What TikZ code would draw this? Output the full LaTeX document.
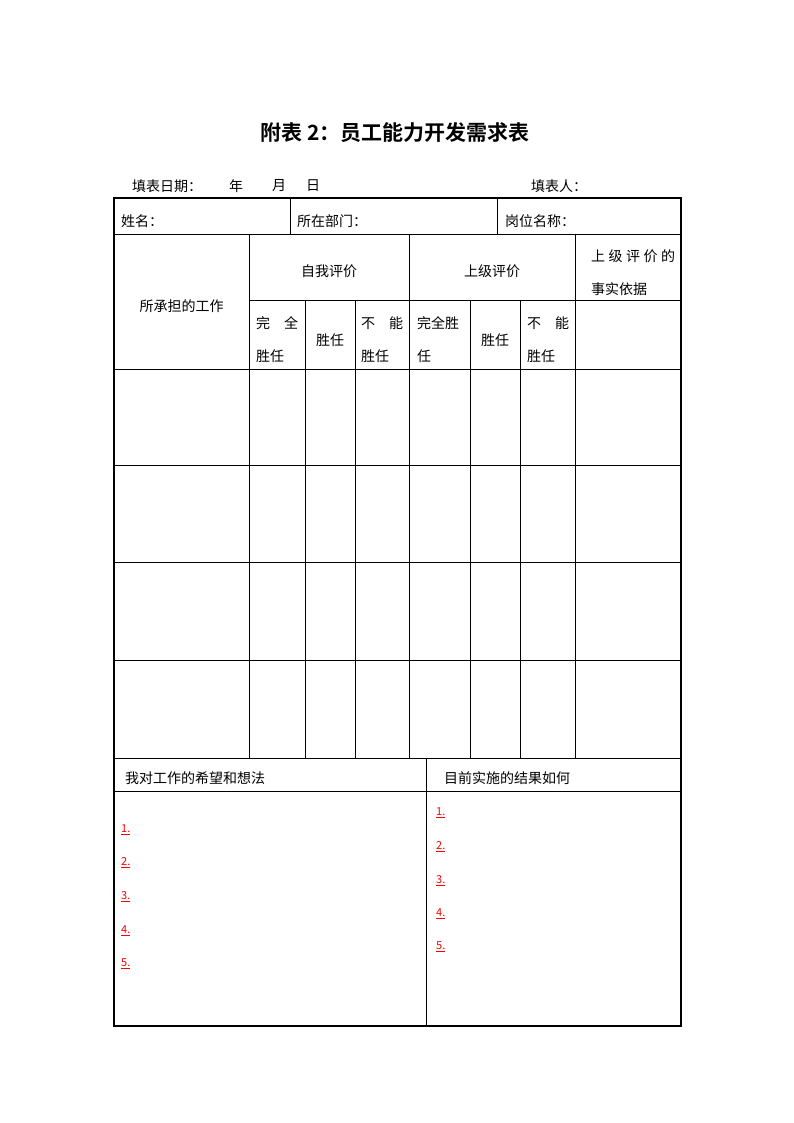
\documentclass[tikz,border=0pt]{standalone}
\usepackage{fontspec}
\setmainfont{Noto Sans CJK SC}
\newfontfamily\titlefont{Noto Sans CJK SC Bold}
\usetikzlibrary{positioning}

\tikzset{
  txt/.style={inner sep=0pt, anchor=west, font=\fontsize{14}{14}\selectfont},
  ctxt/.style={inner sep=0pt, font=\fontsize{14}{14}\selectfont},
  numred/.style={inner sep=0pt, anchor=west, text=red, font=\fontsize{11}{11}\selectfont},
  rule/.style={line width=0.8pt},
  frame/.style={line width=1.8pt}
}

\begin{document}
\begin{tikzpicture}[x=1pt,y=-1pt]
  \useasboundingbox (0,0) rectangle (794,1123);

  % title and top line
  \node[inner sep=0pt, font=\titlefont\fontsize{21}{21}\selectfont] (title) at (395,133) {附表 2：员工能力开发需求表};
  \node[txt] (date) at (132,186) {填表日期：};
  \node[txt] (year) at (229,186) {年};
  \node[txt] (month) at (272,186) {月};
  \node[txt] (day) at (306,186) {日};
  \node[txt] (filler) at (531,186) {填表人：};

  % grid
  \draw[rule] (114,234) -- (681,234);
  \draw[rule] (290,198) -- (290,234);
  \draw[rule] (497,198) -- (497,234);
  \draw[rule] (249,300) -- (681,300);
  \foreach \y in {369,465,562,660,758}
    \draw[rule] (114,\y) -- (681,\y);
  \draw[rule] (114,791) -- (681,791);
  \foreach \x in {249,409,575}
    \draw[rule] (\x,234) -- (\x,758);
  \foreach \x in {305,355,470,520}
    \draw[rule] (\x,300) -- (\x,758);
  \draw[rule] (426,758) -- (426,1026);
  \draw[frame] (114,198) rectangle (681,1026);

  % first row
  \node[txt] (name) at (121,221) {姓名：};
  \node[txt] (dept) at (297,221) {所在部门：};
  \node[txt] (post) at (505,221) {岗位名称：};

  % header
  \node[ctxt] (work) at (181.5,306) {所承担的工作};
  \node[ctxt] (self) at (329,271) {自我评价};
  \node[ctxt] (boss) at (492,271) {上级评价};
  \node[txt] (basis1) at (591,256) {\makebox[84pt][s]{上\hfil 级\hfil 评\hfil 价\hfil 的}};
  \node[txt] (basis2) at (591,289) {事实依据};

  \node[txt] (sfull1) at (256,323) {完\quad 全};
  \node[txt] (sfull2) at (256,356) {胜任};
  \node[ctxt] (sok) at (330,340) {胜任};
  \node[txt] (sno1) at (361,323) {不\quad 能};
  \node[txt] (sno2) at (361,356) {胜任};
  \node[txt] (bfull1) at (417,323) {完全胜};
  \node[txt] (bfull2) at (417,356) {任};
  \node[ctxt] (bok) at (495,340) {胜任};
  \node[txt] (bno1) at (527,323) {不\quad 能};
  \node[txt] (bno2) at (527,356) {胜任};

  % lower part
  \node[txt] (hope) at (125,778) {我对工作的希望和想法};
  \node[txt] (result) at (444,778) {目前实施的结果如何};
  \foreach \i/\y in {1/830,2/863,3/897,4/931,5/964}
    \node[numred] (hope\i) at (121,\y) {\underline{\i.}};
  \foreach \i/\y in {1/813,2/847,3/881,4/914,5/947}
    \node[numred] (result\i) at (436,\y) {\underline{\i.}};
\end{tikzpicture}
\end{document}
